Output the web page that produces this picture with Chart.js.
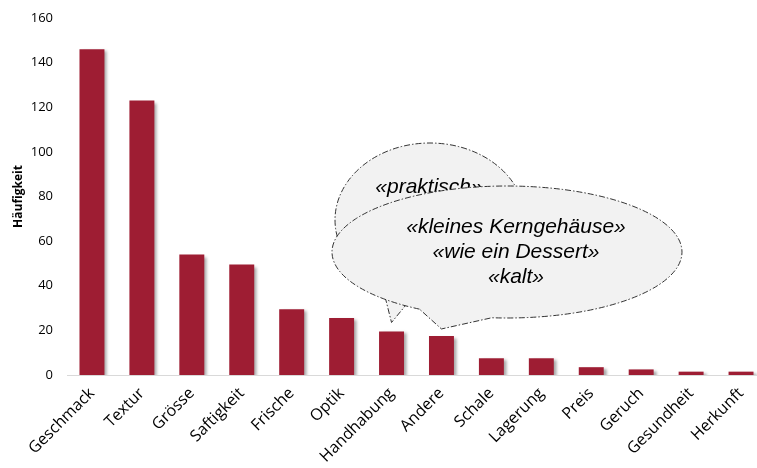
<!DOCTYPE html>
<html>
<head>
<meta charset="utf-8">
<script src="https://cdn.jsdelivr.net/npm/chart.js@4"></script>
<style>
  html, body { margin: 0; padding: 0; background: #fff; overflow: hidden; }
  #wrap { width: 766px; height: 468px; }
</style>
</head>
<body>
<div id="wrap"><canvas id="chart" width="766" height="468"></canvas></div>
<script>
var categories = ["Geschmack", "Textur", "Grösse", "Saftigkeit", "Frische", "Optik", "Handhabung",
    "Andere", "Schale", "Lagerung", "Preis", "Geruch", "Gesundheit", "Herkunft"];
var counts = [146, 123, 54, 49.5, 29.5, 25.5, 19.5, 17.5, 7.5, 7.5, 3.5, 2.5, 1.5, 1.5];
var yMax = 160;
var yStep = 20;
var quoteBack = ["«praktisch»"];
var quoteFront = ["«kleines Kerngehäuse»", "«wie ein Dessert»", "«kalt»"];

var barShadow = {
    id: 'barShadow',
    beforeDatasetsDraw: function(chart) {
        var ctx = chart.ctx;
        ctx.save();
        ctx.shadowColor = 'rgba(0,0,0,0.35)';
        ctx.shadowOffsetX = 3;
        ctx.shadowOffsetY = 2;
        ctx.shadowBlur = 3;
    },
    afterDatasetsDraw: function(chart) {
        chart.ctx.restore();
    }
};

function bubble(ctx, cx, cy, rx, ry, a1, a2, tipX, tipY) {
    var r = Math.PI / 180;
    ctx.beginPath();
    ctx.ellipse(cx, cy, rx, ry, 0, a2 * r, (a1 + 360) * r, false);
    ctx.lineTo(tipX, tipY);
    ctx.closePath();
    ctx.fillStyle = '#f2f2f2';
    ctx.fill();
    ctx.setLineDash([6, 2, 1.5, 2]);
    ctx.lineWidth = 1;
    ctx.strokeStyle = '#333';
    ctx.stroke();
    ctx.setLineDash([]);
}

function writeLines(ctx, lines, x, y, gap) {
    ctx.fillStyle = '#000';
    ctx.font = 'italic 21px "Liberation Sans", Arial, sans-serif';
    ctx.textAlign = 'center';
    ctx.textBaseline = 'middle';
    lines.forEach(function(t, i) {
        ctx.fillText(t, x, y + i * gap);
    });
}

var callouts = {
    id: 'callouts',
    afterDraw: function(chart) {
        var ctx = chart.ctx;
        var xs = chart.scales.x, ys = chart.scales.y;
        ctx.save();
        // tail of back bubble points at "Handhabung"
        var t1x = xs.getPixelForValue(6), t1y = ys.getPixelForValue(counts[6]) - 9;
        bubble(ctx, 430, 220, 95, 77, 100, 120, t1x, t1y);
        writeLines(ctx, quoteBack, 429, 187, 25);
        // tail of front bubble points at "Andere"
        var t2x = xs.getPixelForValue(7), t2y = ys.getPixelForValue(counts[7]) - 7;
        bubble(ctx, 507, 252, 175, 66, 95, 120, t2x, t2y);
        writeLines(ctx, quoteFront, 516, 227, 25);
        ctx.restore();
    }
};

var chart = new Chart(document.getElementById('chart'), {
    type: 'bar',
    data: {
        labels: categories,
        datasets: [{
            data: counts,
            backgroundColor: '#9e1d33',
            borderWidth: 0,
            categoryPercentage: 1.0,
            barPercentage: 0.5
        }]
    },
    options: {
        responsive: false,
        animation: false,
        layout: { padding: { top: 18, right: 0, left: 0, bottom: 0 } },
        plugins: {
            legend: { display: false },
            tooltip: { enabled: false }
        },
        scales: {
            x: {
                z: 1,
                grid: { display: false, drawTicks: false },
                border: { display: true, color: '#d9d9d9', width: 1 },
                ticks: {
                    color: '#000',
                    font: { family: '"Open Sans", sans-serif', size: 16 },
                    maxRotation: 45,
                    minRotation: 45,
                    autoSkip: false,
                    padding: 9
                },
                afterFit: function(scale) { scale.height = 93; }
            },
            y: {
                min: 0,
                max: yMax,
                grid: { display: false, drawTicks: false },
                border: { display: false },
                ticks: {
                    stepSize: yStep,
                    color: '#000',
                    font: { family: '"Open Sans", sans-serif', size: 13 },
                    padding: 14
                },
                title: {
                    display: true,
                    text: 'Häufigkeit',
                    color: '#000',
                    font: { family: '"Open Sans", sans-serif', size: 12, weight: 'bold' },
                    padding: { top: 11, bottom: 4 }
                },
                afterFit: function(scale) {
                    scale.width = 67;
                    scale.paddingTop = 0;
                }
            }
        }
    },
    plugins: [barShadow, callouts]
});
</script>
</body>
</html>
